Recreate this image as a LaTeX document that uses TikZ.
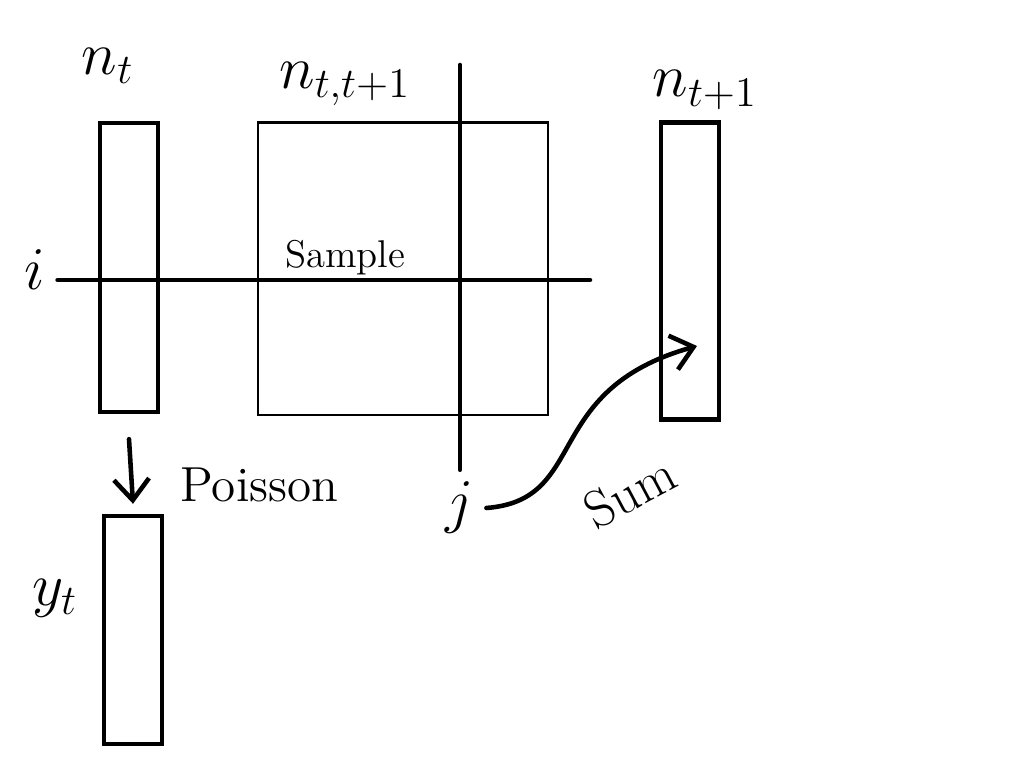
\documentclass[tikz,border=0pt]{standalone}
\usetikzlibrary{arrows.meta}
\tikzset{
  colbox/.style={draw, line width=1.2pt, minimum width=0.58cm, inner sep=0pt},
  matbox/.style={draw, line width=0.8pt, inner sep=0pt, minimum width=2.9cm, minimum height=2.92cm},
  lbl/.style={font=\fontsize{18}{22}\selectfont},
  pen/.style={line width=1.3pt, line cap=round},
  flow/.style={pen, -{Straight Barb[length=6pt,width=10pt]}}
}
\begin{document}
\begin{tikzpicture}[x=0.01cm, y=-0.01cm]
\useasboundingbox (0,0) rectangle (1024,768);
 \node[colbox, minimum height=2.89cm] at (129,267.5) (nt)  {};
 \node[matbox] at (403,269) (ntt) {};
 \node[colbox, minimum height=2.97cm] at (690,271) (ntp) {};
 \node[colbox, minimum height=2.28cm] at (133,630) (yt)  {};

 \node[lbl] at (108,66)  (ntlabel)  {$n_t$};
 \node[lbl] at (345,84)  (nttlabel) {$n_{t,t+1}$};
 \node[lbl] at (705,90)  (ntplabel) {$n_{t+1}$};
 \node[lbl] at (55,598)  (ytlabel)  {$y_t$};
 \node[lbl] at (35,270)  (i)        {$i$};
 \node[lbl] at (460,508) (j)        {$j$};
 \node[font=\fontsize{11}{13}\selectfont] at (345,258) (sample) {Sample};
 \node[font=\fontsize{14}{16}\selectfont, anchor=west] at (168,485) (poisson) {Poisson};
 \node[font=\fontsize{15}{18}\selectfont, rotate=28] at (630,492) (sum) {Sum};

 \coordinate (iend) at (590,280);
 \coordinate (jtop) at (460,65);
 \coordinate (sumend) at (697,346);
 \draw [pen] (i.east |- iend)to(iend);
 \draw [pen] (jtop)to(j.north);
 \draw [flow] ([yshift=-0.25cm]nt.south)to([yshift=0.1cm]yt.north);
 \draw [flow] (j.east)..controls (590,500) and (540,390)..(sumend);
 \end{tikzpicture}
\end{document}
